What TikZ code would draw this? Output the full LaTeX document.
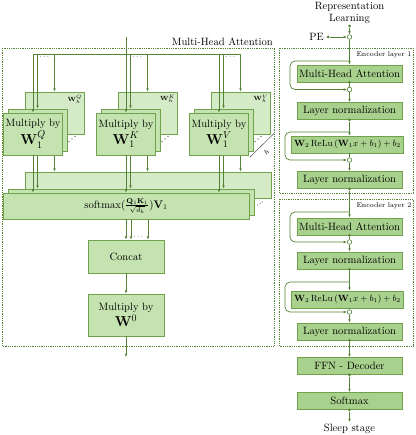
\documentclass[tikz,border=0pt]{standalone}
\usepackage{amsmath}
\usetikzlibrary{arrows.meta}
\definecolor{lg}{HTML}{548235}
\definecolor{bd}{HTML}{6FA24A}
\definecolor{rf}{HTML}{A9D18E}
\definecolor{lf}{HTML}{C5E3B0}
\definecolor{lb}{HTML}{D5EBC7}
\newcommand\myfs{\fontsize{10.6}{12.5}\selectfont}
\newcommand\myfsW{\fontsize{14}{15}\selectfont}
\newcommand\myfss{\fontsize{7}{8}\selectfont}
\newcommand\myfsl{\fontsize{6}{7}\selectfont}
\newcommand\myfsf{\fontsize{9}{10}\selectfont}
\begin{document}
\begin{tikzpicture}[x=1pt,y=-1pt,
  ln/.style={draw=lg, line width=0.7pt},
  arr/.style={draw=lg, line width=0.7pt, -{Latex[length=3.2pt,width=2.6pt]}},
  dotb/.style={draw=lg, line width=0.8pt, densely dotted},
  rbox/.style={draw=bd, fill=rf, line width=0.7pt, minimum width=105pt, minimum height=17pt, inner sep=0pt, font=\myfs},
  lbox/.style={draw=bd, fill=lf, line width=0.7pt, inner sep=0pt, font=\myfs, align=center},
  mult/.style={lbox, minimum width=59pt, minimum height=42pt},
  smx/.style={lbox, minimum width=246pt, minimum height=26pt},
  odot/.style={circle, draw=lg, fill=white, line width=0.6pt, minimum size=4.6pt, inner sep=0pt},
  fdot/.style={circle, fill=lg, minimum size=3pt, inner sep=0pt},
  txt/.style={font=\myfs, inner sep=0pt, align=center}]
\useasboundingbox (0,0) rectangle (415,435);

% ================= left: multi-head attention =================
\draw[dotb] (2,48) rectangle (274,346);
\node[font=\myfs, anchor=base east, inner sep=0pt] (mhat) at (273,45.5) {Multi-Head Attention};
\coordinate (in) at (126,37);
\node[lbox, minimum width=76pt, minimum height=33pt] (cc) at (126,256.5) {Concat};
\node[lbox, minimum width=76pt, minimum height=42pt] (w0) at (126,315) {Multiply by\\[1pt]{\myfsW$\mathbf{W}^0$}};
\coordinate (out) at (126,357);
\draw[ln] (33,54) -- (240.5,54);

% back layer
\foreach \n/\cx/\s in {qb/33/Q, kb/126/K, vb/219/V}{
  \node[mult, fill=lb] (\n) at (\cx+21.5,113) {};
  \node[font=\myfsl, anchor=north east, inner sep=0pt] at ([xshift=-2pt,yshift=-3pt]\n.north east) {$\mathbf{W}_h^{\s}$};
}
\node[smx, fill=lb] (sb) at (148,185) {};
\foreach \n/\cx in {qb/33, kb/126, vb/219}{
  \draw[arr] (\cx+21.5,54) -- (\n.north);
  \draw[arr] (\n.south) -- (\n.south |- sb.north);
}
\draw[arr] (sb.south) -- (sb.south |- cc.north);

% middle layer
\foreach \n/\cx in {qm/33, km/126, vm/219}{
  \node[mult] (\n) at (\cx+4.5,130) {};
}
\node[smx] (sm) at (131,202) {};
\foreach \n/\cx in {qm/33, km/126, vm/219}{
  \draw[arr] (\cx+4.5,54) -- (\n.north);
  \draw[arr] (\n.south) -- (\n.south |- sm.north);
}
\draw[arr] (sm.south) -- (sm.south |- cc.north);

% front layer
\node[mult] (qf) at (33,134) {Multiply by\\[1pt]{\myfsW$\mathbf{W}_1^Q$}};
\node[mult] (kf) at (126,134) {Multiply by\\[1pt]{\myfsW$\mathbf{W}_1^K$}};
\node[mult] (vf) at (219,134) {Multiply by\\[1pt]{\myfsW$\mathbf{W}_1^V$}};
\node[smx] (sf) at (126,206) {softmax$(\frac{\mathbf{Q}_1\mathbf{K}_1}{\sqrt{d_k}})\mathbf{V}_1$};
\draw[arr] (33,54) -- (qf.north);
\draw[arr] (in) -- (kf.north);
\draw[arr] (219,54) -- (vf.north);
\foreach \n in {qf,kf,vf}{
  \draw[arr] (\n.south) -- (\n.south |- sf.north);
}
\draw[arr] (sf.south) -- (cc.north);
\draw[arr] (cc) -- (w0);
\draw[arr] (w0) -- (out);

% dots
\foreach \cx in {33,126,219}{
  \node[font=\myfss, inner sep=0pt] at (\cx+12,56.5) {$\cdots$};
  \foreach \dx/\dy in {36/141.5, 39/139, 42/136.5}{
    \fill[black!80] (\cx+\dx,\dy) circle (0.55pt);
  }
}
\node[font=\myfss, inner sep=0pt] at (139,236.5) {$\cdots$};
\foreach \dx/\dy in {257.5/205, 260/203.5, 262.5/202}{
  \fill[black!80] (\dx,\dy) circle (0.5pt);
}
\draw[black!80, line width=0.4pt] (250,157) -- (274,133.5);
\node[font=\myfss, rotate=45, inner sep=0pt] at (266.5,152.5) {$h$};

% ================= right: encoder =================
\node[txt, font=\fontsize{10.6}{11.5}\selectfont] (rl) at (349.5,13) {Representation\\Learning};
\node[fdot] (d0) at (349.5,26) {};
\node[odot] (c0) at (349.5,37) {};
\node[fdot] (pd) at (328,37) {};
\node[txt, anchor=east] (pe) at (324,37) {PE};
\draw[arr] (d0) -- (c0);
\draw[arr] (pd) -- (c0);

% encoder layer 1
\draw[dotb] (279,48) rectangle (413,193);
\node[font=\myfss, anchor=north east, inner sep=0pt] (e1) at (411.5,51) {Encoder layer 1};
\node[rbox] (mha1) at (349.5,73.5) {Multi-Head Attention};
\draw[arr] (c0) -- (mha1);
\coordinate (s1) at (349.5,61);
\node[fdot] (m1d) at (mha1.south) {};
\node[odot] (m1c) at (349.5,89.5) {};
\draw[ln] (m1d) -- (m1c);
\draw[arr, rounded corners=5pt] (s1) -| (290,75) |- (m1c.west);
\node[rbox] (ln1) at (349.5,111) {Layer normalization};
\draw[arr] (m1c) -- (ln1);
\node[fdot] (l1d) at (ln1.south) {};
\node[rbox, minimum width=112pt, font=\myfsf] (ff1) at (347.5,144.5) {$\mathbf{W}_2\,\mathrm{ReLu}\left(\mathbf{W}_1x+b_1\right)+b_2$};
\draw[arr] (l1d) -- (l1d |- ff1.north);
\coordinate (s2) at (349.5,132);
\node[odot] (f1c) at (349.5,160) {};
\draw[ln] (f1c |- ff1.south) -- (f1c);
\draw[arr, rounded corners=5pt] (s2) -| (285,146) |- (f1c.west);
\node[rbox] (ln1b) at (349.5,180) {Layer normalization};
\draw[arr] (f1c) -- (ln1b);
\node[fdot] (l1bd) at (ln1b.south) {};

% encoder layer 2
\draw[dotb] (279,199) rectangle (413,346);
\node[font=\myfss, anchor=north east, inner sep=0pt] (e2) at (411.5,202) {Encoder layer 2};
\node[rbox] (mha2) at (349.5,226.5) {Multi-Head Attention};
\draw[arr] (l1bd) -- (mha2);
\coordinate (s3) at (349.5,212);
\node[fdot] (m2d) at (mha2.south) {};
\node[odot] (m2c) at (349.5,242) {};
\draw[ln] (m2d) -- (m2c);
\draw[arr, rounded corners=5pt] (s3) -| (290,227) |- (m2c.west);
\node[rbox] (ln2) at (349.5,260.5) {Layer normalization};
\draw[arr] (m2c) -- (ln2);
\node[fdot] (l2d) at (ln2.south) {};
\node[rbox, minimum width=112pt, font=\myfsf] (ff2) at (347.5,299.5) {$\mathbf{W}_2\,\mathrm{ReLu}\left(\mathbf{W}_1x+b_1\right)+b_2$};
\draw[arr] (l2d) -- (l2d |- ff2.north);
\coordinate (s4) at (349.5,282);
\node[odot] (f2c) at (349.5,312) {};
\draw[ln] (f2c |- ff2.south) -- (f2c);
\draw[arr, rounded corners=5pt] (s4) -| (285,298) |- (f2c.west);
\node[rbox] (ln2b) at (349.5,331.5) {Layer normalization};
\draw[arr] (f2c) -- (ln2b);
\node[fdot] (l2bd) at (ln2b.south) {};

% decoder
\node[rbox] (dec) at (349.5,366) {FFN - Decoder};
\draw[arr] (l2bd) -- (dec);
\node[fdot] (decd) at (dec.south) {};
\node[rbox] (smax) at (349.5,401) {Softmax};
\draw[arr] (decd) -- (smax);
\node[fdot] (smd) at (smax.south) {};
\coordinate (ss) at (349.5,422);
\draw[arr] (smd) -- (ss);
\node[txt] (sleep) at (349.5,428.5) {Sleep stage};
\end{tikzpicture}
\end{document}
